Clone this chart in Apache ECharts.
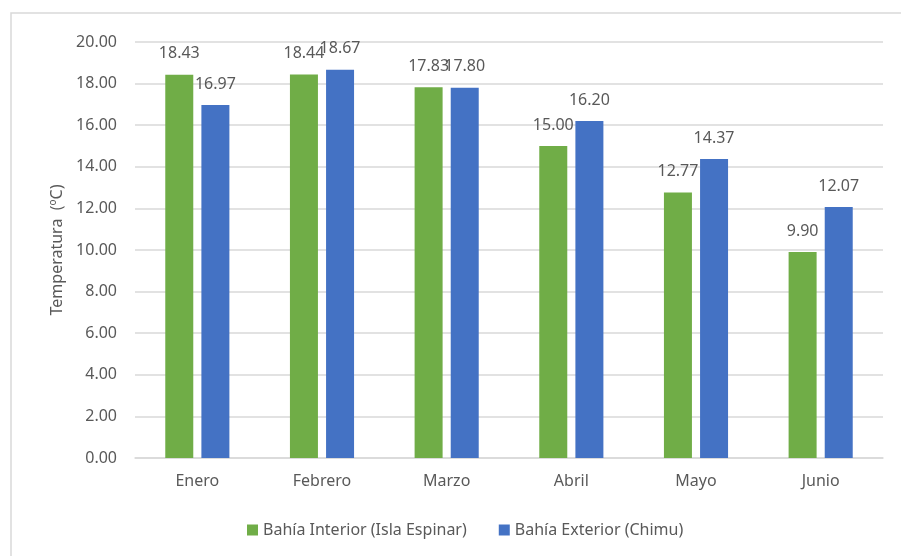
<!DOCTYPE html>
<html>
<head>
<meta charset="utf-8">
<script src="https://cdn.jsdelivr.net/npm/echarts@6/dist/echarts.min.js"></script>
<style>html,body{margin:0;padding:0;background:#fff}#c{width:901px;height:556px}</style>
</head>
<body>
<div id="c"></div>
<script>
const categories = ['Enero', 'Febrero', 'Marzo', 'Abril', 'Mayo', 'Junio'];
const interiorValues = [18.43, 18.44, 17.83, 15.00, 12.77, 9.90];
const exteriorValues = [16.97, 18.67, 17.80, 16.20, 14.37, 12.07];
const seriesNames = ['Bahía Interior (Isla Espinar)', 'Bahía Exterior (Chimu)'];
const yAxisTitle = 'Temperatura  (ºC)';

const font = 'Noto Sans';
const textColor = '#595959';
const chart = echarts.init(document.getElementById('c'));
const labelCfg = {
  show: true, position: 'top', distance: 13,
  color: textColor, fontFamily: font, fontSize: 16,
  formatter: p => p.value.toFixed(2)
};
chart.setOption({
  animation: false,
  textStyle: { fontFamily: font },
  graphic: [{
    type: 'rect', shape: { x: 11, y: 13, width: 900, height: 560 },
    style: { fill: 'none', stroke: '#d9d9d9', lineWidth: 1.5 }, silent: true
  }],
  grid: { left: 135, right: 18, top: 42, bottom: 98 },
  legend: {
    bottom: 13, left: 242, itemWidth: 11, itemHeight: 11, itemGap: 32, icon: 'rect',
    textStyle: { color: textColor, fontFamily: font, fontSize: 16 },
    data: seriesNames
  },
  xAxis: {
    type: 'category', data: categories,
    axisLine: { lineStyle: { color: '#d9d9d9', width: 1.5 } },
    axisTick: { show: false },
    axisLabel: { color: textColor, fontFamily: font, fontSize: 16, margin: 15 }
  },
  yAxis: {
    type: 'value', min: 0, max: 20, interval: 2,
    name: yAxisTitle, nameLocation: 'middle', nameGap: 70,
    nameTextStyle: { color: textColor, fontFamily: font, fontSize: 16 },
    axisLine: { show: false }, axisTick: { show: false },
    axisLabel: { color: textColor, fontFamily: font, fontSize: 16, margin: 18, formatter: v => v.toFixed(2) },
    splitLine: { lineStyle: { color: '#d9d9d9', width: 1.5 } }
  },
  series: [
    { name: seriesNames[0], type: 'bar', data: interiorValues, barWidth: 28, barGap: '29%',
      itemStyle: { color: '#70AD47' }, label: labelCfg },
    { name: seriesNames[1], type: 'bar', data: exteriorValues, barWidth: 28,
      itemStyle: { color: '#4472C4' }, label: labelCfg }
  ]
});
</script>
</body>
</html>
